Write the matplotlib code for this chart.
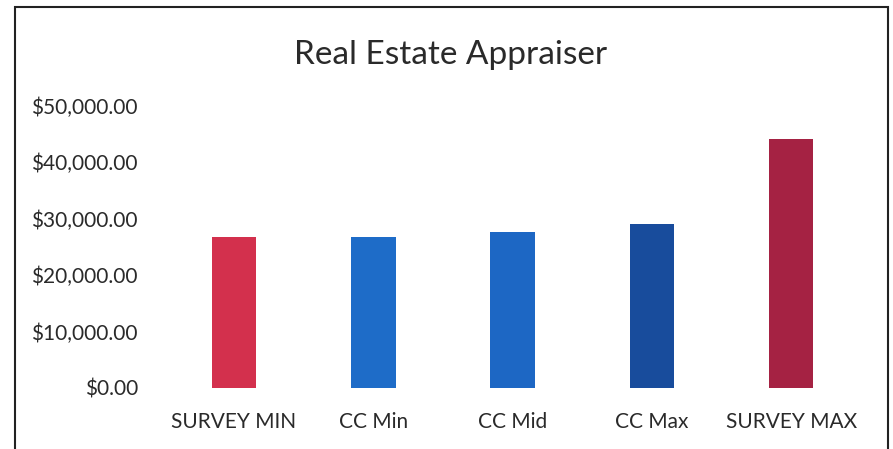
import matplotlib.pyplot as plt
from matplotlib.patches import Rectangle
from matplotlib.ticker import FuncFormatter

categories = ['SURVEY MIN', 'CC Min', 'CC Mid', 'CC Max', 'SURVEY MAX']
salaries = [26800, 26700, 27700, 29100, 44200]
colors = ['#D3304D', '#1E6CC8', '#1D67C4', '#184C9C', '#A52243']

plt.rcParams['font.family'] = ['Lato', 'DejaVu Sans']

fig = plt.figure(figsize=(8.93, 4.49), dpi=100)
ax = fig.add_axes([0.184, 0.136, 0.780, 0.628])

ax.bar(range(len(categories)), salaries, width=0.32, color=colors)
ax.set_xlim(-0.5, len(categories) - 0.5)
ax.set_ylim(0, 50000)
ax.set_yticks(range(0, 50001, 10000))
ax.yaxis.set_major_formatter(FuncFormatter(lambda v, p: '${:,.2f}'.format(v)))
ax.set_xticks(range(len(categories)))
ax.set_xticklabels(categories)
ax.tick_params(length=0, labelsize=15, colors='#2a2a2a')
ax.tick_params(axis='y', pad=19)
ax.tick_params(axis='x', pad=17)
for s in ax.spines.values():
    s.set_visible(False)

fig.text(0.504, 0.878, 'Real Estate Appraiser', ha='center', va='center',
         fontsize=24, color='#2a2a2a')

# outer frame of the chart box
fig.patches.append(Rectangle((15 / 893, -0.02), 873 / 893, 1.02 - 7 / 449,
                             transform=fig.transFigure, fill=False,
                             edgecolor='#222222', linewidth=1.5))

fig.savefig('out.png', dpi=100)
